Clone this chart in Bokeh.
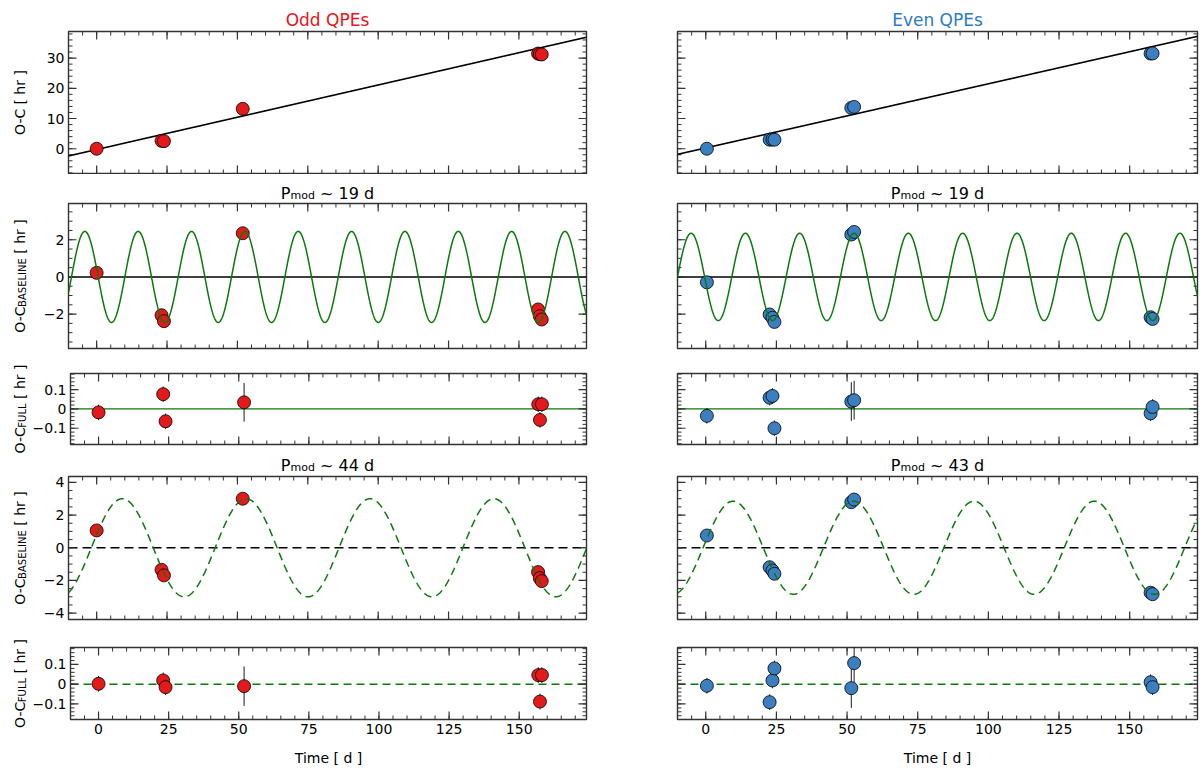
import numpy as np
from bokeh.plotting import figure
from bokeh.models import Range1d, FixedTicker, CustomJSTickFormatter, Span, Label
from bokeh.core.properties import value
from bokeh.layouts import column, row
from bokeh.embed import file_html
from bokeh.resources import INLINE

# ---------------- data ----------------
# Odd QPEs
t_odd = [0.0, 23.05, 23.9, 51.9, 156.8, 157.4, 158.1]
oc_odd = [0.0, 2.6, 2.5, 13.2, 31.5, 31.3, 31.2]
base19_odd = [0.22, -2.06, -2.38, 2.35, -1.75, -2.11, -2.29]
full19_odd = [-0.018, 0.076, -0.064, 0.034, 0.024, -0.057, 0.024]
base44_odd = [1.06, -1.35, -1.69, 3.0, -1.49, -1.86, -2.04]
full44_odd = [0.002, 0.019, -0.015, -0.010, 0.046, -0.088, 0.046]
err_odd = [0.04, 0.04, 0.04, 0.10, 0.04, 0.04, 0.04]

# Even QPEs
t_even = [0.4, 22.6, 23.6, 24.3, 51.5, 52.5, 157.4, 158.1]
oc_even = [0.0, 3.0, 3.05, 3.0, 13.5, 13.85, 31.5, 31.55]
base19_even = [-0.29, -2.02, -2.20, -2.42, 2.28, 2.42, -2.17, -2.26]
full19_even = [-0.036, 0.058, 0.067, -0.100, 0.038, 0.045, -0.023, 0.010]
base43_even = [0.75, -1.19, -1.39, -1.59, 2.79, 2.95, -2.75, -2.84]
full43_even = [-0.008, -0.091, 0.019, 0.080, -0.020, 0.107, 0.010, -0.015]
err_even = [0.04, 0.04, 0.04, 0.04, 0.10, 0.10, 0.04, 0.04]

# model parameters
baseline_odd = (-0.26, 0.2136)      # intercept [hr], slope [hr/d]
baseline_even = (0.26, 0.2123)
mod19_odd = (2.45, 18.95, -4.2)     # amplitude [hr], period [d], time of a maximum [d]
mod19_even = (2.35, 19.22, -5.2)
mod44_odd = (3.0, 44.0, 9.1)
mod43_even = (2.85, 42.6, 9.7)

col_titles = ["Odd QPEs", "Even QPEs"]
pmod_row2 = ["19", "19"]
pmod_row4 = ["44", "43"]
x_title = "Time [ d ]"
y_main = "O-C"
y_unit = " [ hr ]"
row_sub = [None, "BASELINE", "FULL", "BASELINE", "FULL"]

x_limits = (-10, 174)
x_ticks = [0, 25, 50, 75, 100, 125, 150]
row_limits = [(-8.2, 38.8), (-3.85, 3.95), (-0.184, 0.183), (-4.39, 4.36), (-0.179, 0.186)]
row_ticks = [[0, 10, 20, 30], [-2, 0, 2], [-0.1, 0, 0.1], [-4, -2, 0, 2, 4], [-0.1, 0, 0.1]]
row_minor = [2, 0.5, 0.02, 0.5, 0.02]

# ---------------- styling / layout ----------------
FONT = "DejaVu Sans"
FRAME = "#333333"
RED = "#e31a1c"
BLUE = "#3b7fc0"
RED_T = "#e8141c"
BLUE_T = "#2b7cc4"
GREEN = "#0a780a"

YLAB_W = 29
COLS = [dict(width=602, ml=39, mr=45), dict(width=568, ml=46, mr=2)]
ROWS = [dict(h=144, mt=1, mb=1), dict(h=148, mt=1, mb=2), dict(h=96, mt=23, mb=2),
        dict(h=146, mt=1, mb=2), dict(h=148, mt=26, mb=50)]
STRIP_T = 30
STRIP_P2 = 28
STRIP_P4 = 29
TOTAL_H = STRIP_T + ROWS[0]["h"] + STRIP_P2 + ROWS[1]["h"] + ROWS[2]["h"] + STRIP_P4 + ROWS[3]["h"] + ROWS[4]["h"]
STRIP_W = COLS[0]["width"] + COLS[1]["width"]

W = {' ': 0.318, '-': 0.361, '[': 0.390, ']': 0.390, '~': 0.838, '.': 0.318,
     'A': 0.684, 'B': 0.686, 'C': 0.698, 'D': 0.770, 'E': 0.632, 'F': 0.575, 'I': 0.295,
     'L': 0.557, 'N': 0.748, 'O': 0.787, 'P': 0.603, 'Q': 0.787, 'S': 0.635, 'T': 0.611,
     'U': 0.732, 'd': 0.635, 'e': 0.615, 'h': 0.634, 'i': 0.278, 'm': 0.974, 'o': 0.612,
     'r': 0.411, 's': 0.521, 'v': 0.592}
for dgt in "0123456789":
    W[dgt] = 0.636


def tw(s, size):
    return sum(W.get(c, 0.6) for c in s) * size


def text_fig(w, h):
    f = figure(width=w, height=h, x_range=Range1d(0, w), y_range=Range1d(0, h),
               output_backend="svg", toolbar_location=None,
               x_axis_location=None, y_axis_location=None,
               min_border_left=0, min_border_right=0, min_border_top=0, min_border_bottom=0)
    f.grid.visible = False
    f.outline_line_color = None
    f.background_fill_color = "white"
    f.border_fill_color = "white"
    return f


def put(f, x, y, txt, size, color="black", align="left", baseline="alphabetic"):
    f.text(x=[x], y=[y], text=[txt], text_font=value(FONT), text_font_size=value(f"{size}px"),
           text_color=color, text_align=align, text_baseline=baseline)


def put_rot(f, x, y, txt, size):
    f.add_layout(Label(x=x, y=y, text=txt, text_font=FONT, text_font_size=f"{size}px",
                       text_color="black", text_align="left", text_baseline="alphabetic",
                       angle=90, angle_units="deg"))


def hpieces(f, pieces, cx, base_y, color="black"):
    total = sum(tw(t, s) for t, s, d in pieces)
    x = cx - total / 2
    for t, s, d in pieces:
        lead = len(t) - len(t.lstrip())
        put(f, x + lead * W[' '] * s, base_y - d, t.lstrip(), s, color)
        x += tw(t, s)


def vpieces(f, pieces, bx, cy):
    total = sum(tw(t, s) for t, s, d in pieces)
    y = cy - total / 2
    for t, s, d in pieces:
        lead = len(t) - len(t.lstrip())
        put_rot(f, bx + d, y + lead * W[' '] * s, t.lstrip(), s)
        y += tw(t, s)


fmt_code = """
if (Math.abs(tick) < 1e-9) { return '0'; }
var s = String(Math.round(tick * 1000) / 1000);
return s.replace('-', '\u2212');
"""


def label_axis(ax, standoff):
    ax.axis_line_color = None
    ax.major_tick_in = 0
    ax.major_tick_out = 0
    ax.minor_tick_in = 0
    ax.minor_tick_out = 0
    ax.major_tick_line_color = None
    ax.minor_tick_line_color = None
    ax.formatter = CustomJSTickFormatter(code=fmt_code)
    ax.major_label_text_font = FONT
    ax.major_label_text_font_size = "14px"
    ax.major_label_text_color = "black"
    ax.major_label_standoff = standoff


def steps(lo, hi, step):
    k0 = int(np.ceil(lo / step - 1e-9))
    k1 = int(np.floor(hi / step + 1e-9))
    return [round(k * step, 6) for k in range(k0, k1 + 1)]


def add_ticks(p, xlim, ylim, ymaj, ystep):
    def inner(vals, lim):
        return [v for v in vals if lim[0] + 1e-6 < v < lim[1] - 1e-6]
    kw = dict(length_units="screen", angle_units="deg", line_color=FRAME)
    for vals, L, lw in ((steps(*xlim, 5), 4, 1.0), (x_ticks, 8, 1.2)):
        v = inner(vals, xlim)
        p.ray(x=v, y=[ylim[0]] * len(v), length=L, angle=90, line_width=lw, **kw)
        p.ray(x=v, y=[ylim[1]] * len(v), length=L, angle=-90, line_width=lw, **kw)
    for vals, L, lw in ((steps(*ylim, ystep), 4, 1.0), (ymaj, 8, 1.2)):
        v = inner(vals, ylim)
        p.ray(x=[xlim[0]] * len(v), y=v, length=L, angle=0, line_width=lw, **kw)
        p.ray(x=[xlim[1]] * len(v), y=v, length=L, angle=180, line_width=lw, **kw)


tt = np.linspace(x_limits[0], x_limits[1], 1200)


def sine(params):
    A, P, t0 = params
    return A * np.cos(2 * np.pi * (tt - t0) / P)


series = [
    dict(t=t_odd, err=err_odd, vals=[oc_odd, base19_odd, full19_odd, base44_odd, full44_odd],
         base=baseline_odd, m1=mod19_odd, m2=mod44_odd, color=RED, tcolor=RED_T),
    dict(t=t_even, err=err_even, vals=[oc_even, base19_even, full19_even, base43_even, full43_even],
         base=baseline_even, m1=mod19_even, m2=mod43_even, color=BLUE, tcolor=BLUE_T),
]


def plot_row(r):
    figs = []
    for c in range(2):
        C = COLS[c]
        R = ROWS[r]
        S = series[c]
        p = figure(width=C["width"], height=R["h"], x_range=Range1d(*x_limits),
                   y_range=Range1d(*row_limits[r]), output_backend="svg", toolbar_location=None,
                   x_axis_location=("below" if r == 4 else None),
                   y_axis_location=("left" if c == 0 else None),
                   min_border_left=C["ml"], min_border_right=C["mr"],
                   min_border_top=R["mt"], min_border_bottom=R["mb"])
        p.grid.visible = False
        p.outline_line_color = FRAME
        p.outline_line_width = 1.4
        p.background_fill_color = "white"
        p.border_fill_color = "white"
        if c == 0:
            p.yaxis.ticker = FixedTicker(ticks=row_ticks[r])
            label_axis(p.yaxis[0], 4)
        if r == 4:
            p.xaxis.ticker = FixedTicker(ticks=x_ticks)
            label_axis(p.xaxis[0], 4)
            p.xaxis[0].axis_label = x_title
            p.xaxis[0].axis_label_text_font = FONT
            p.xaxis[0].axis_label_text_font_size = "14px"
            p.xaxis[0].axis_label_text_font_style = "normal"
            p.xaxis[0].axis_label_text_color = "black"
            p.xaxis[0].axis_label_standoff = 13

        add_ticks(p, x_limits, row_limits[r], row_ticks[r], row_minor[r])

        t = np.array(S["t"], dtype=float)
        y = np.array(S["vals"][r], dtype=float)
        e = np.array(S["err"], dtype=float)

        if r == 0:
            b0, b1 = S["base"]
            p.line(tt, b0 + b1 * tt, line_color="black", line_width=1.6)
        elif r == 1:
            p.add_layout(Span(location=0, dimension="width", line_color="black",
                              line_width=1.6, level="underlay"))
        elif r == 2:
            p.add_layout(Span(location=0, dimension="width", line_color=GREEN,
                              line_width=1.4, level="underlay"))
        elif r == 3:
            p.add_layout(Span(location=0, dimension="width", line_color="black",
                              line_width=1.6, line_dash="9 5", level="underlay"))
        elif r == 4:
            p.add_layout(Span(location=0, dimension="width", line_color=GREEN,
                              line_width=1.4, line_dash="8 5", level="underlay"))

        p.segment(x0=t, y0=y - e, x1=t, y1=y + e, line_color="black", line_width=0.9)
        p.scatter(t, y, marker="circle", size=13, fill_color=S["color"],
                  line_color="black", line_width=0.8)

        if r == 1:
            p.line(tt, sine(S["m1"]), line_color=GREEN, line_width=1.5)
        elif r == 3:
            p.line(tt, sine(S["m2"]), line_color=GREEN, line_width=1.5, line_dash="8 5")
        figs.append(p)
    return row(*figs)


def frame_cx(c):
    C = COLS[c]
    x0 = 0 if c == 0 else COLS[0]["width"]
    return x0 + C["ml"] + (C["width"] - C["ml"] - C["mr"]) / 2


# title strip
st = text_fig(STRIP_W, STRIP_T)
for c in range(2):
    put(st, frame_cx(c), STRIP_T - 19.2, col_titles[c], 17, series[c]["tcolor"], align="center")

# P_mod strips (baseline 9-10 px above the strip bottom)
sp2 = text_fig(STRIP_W, STRIP_P2)
sp4 = text_fig(STRIP_W, STRIP_P4)
for c in range(2):
    hpieces(sp2, [("P", 16, 0), ("mod", 11, 2), (" ~ " + pmod_row2[c] + " d", 16, 0)],
            frame_cx(c), 9)
    hpieces(sp4, [("P", 16, 0), ("mod", 11, 2), (" ~ " + pmod_row4[c] + " d", 16, 0)],
            frame_cx(c), 10)

# y-label column (y measured upward from the bottom of the page)
yl = text_fig(YLAB_W, TOTAL_H)
tops = []
ytop = STRIP_T
for r in range(5):
    if r == 1:
        ytop += STRIP_P2
    if r == 3:
        ytop += STRIP_P4
    tops.append(ytop)
    ytop += ROWS[r]["h"]
for r in range(5):
    R = ROWS[r]
    fc_page = tops[r] + R["mt"] + (R["h"] - R["mt"] - R["mb"]) / 2
    if row_sub[r] is None:
        pieces = [(y_main, 14, 0), (y_unit, 14, 0)]
    else:
        pieces = [(y_main, 14, 0), (row_sub[r], 10, 3), (y_unit, 14, 0)]
    vpieces(yl, pieces, 19, TOTAL_H - fc_page)

plots = column(st, plot_row(0), sp2, plot_row(1), plot_row(2), sp4, plot_row(3), plot_row(4))
layout = row(yl, plots)
open("out.html", "w").write(file_html(layout, INLINE))
